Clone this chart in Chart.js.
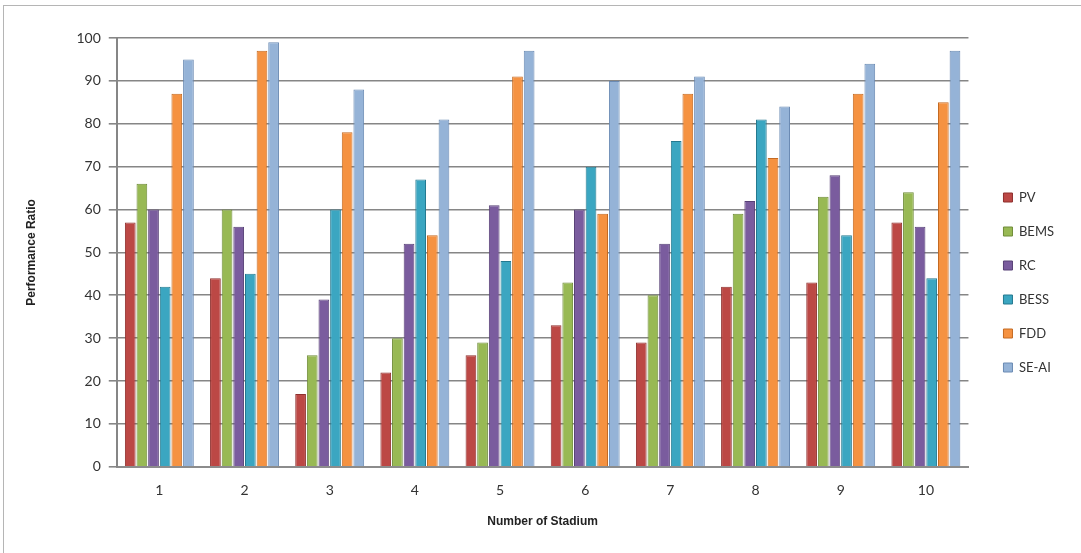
<!DOCTYPE html>
<html lang="en">
<head>
    <meta charset="UTF-8">
    <title>Performance Ratio by Stadium</title>
    <style>
        body {
            margin: 0;
            padding: 0;
            background: #ffffff;
        }

        .frame {
            position: absolute;
            left: 3px;
            top: 5px;
            width: 1090px;
            height: 560px;
            border: 1px solid #b5b5b5;
        }

        #chart-wrap {
            position: absolute;
            left: 0;
            top: 0;
            width: 1081px;
            height: 553px;
        }
    </style>
</head>
<body>
<div class="frame"></div>
<div id="chart-wrap">
    <canvas id="bar-chart"></canvas>
</div>

<script src="https://cdn.jsdelivr.net/npm/chart.js"></script>
<script>
    // data
    var stadiums = ['1', '2', '3', '4', '5', '6', '7', '8', '9', '10'];
    var pv    = [57, 44, 17, 22, 26, 33, 29, 42, 43, 57];
    var bems  = [66, 60, 26, 30, 29, 43, 40, 59, 63, 64];
    var rc    = [60, 56, 39, 52, 61, 60, 52, 62, 68, 56];
    var bess  = [42, 45, 60, 67, 48, 70, 76, 81, 54, 44];
    var fdd   = [87, 97, 78, 54, 91, 59, 87, 72, 87, 85];
    var seai  = [95, 99, 88, 81, 97, 90, 91, 84, 94, 97];
    var yTicks = [0, 10, 20, 30, 40, 50, 60, 70, 80, 90, 100];

    function series(label, values, color, edge) {
        return {
            label: label,
            data: values,
            backgroundColor: color,
            borderColor: edge,
            borderWidth: 1,
            categoryPercentage: 0.82,
            barPercentage: 0.92
        };
    }

    // push the legend a bit further right, away from the plot
    var legendShift = {
        id: 'legendShift',
        afterLayout: function (chart) {
            chart.legend.left += 14;
            chart.legend.right += 14;
            chart.legend.top -= 3;
            chart.legend.bottom -= 3;
        }
    };

    var ctx = document.getElementById('bar-chart').getContext('2d');
    var chart = new Chart(ctx, {
        type: 'bar',
        data: {
            labels: stadiums,
            datasets: [
                series('PV', pv, '#bc4845', '#8e2f2d'),
                series('BEMS', bems, '#98b954', '#6f8c38'),
                series('RC', rc, '#7a5c9e', '#574076'),
                series('BESS', bess, '#3ba6c1', '#24798f'),
                series('FDD', fdd, '#f59241', '#c46a22'),
                series('SE-AI', seai, '#95b3d7', '#6a8ab3')
            ]
        },
        options: {
            responsive: true,
            maintainAspectRatio: false,
            animation: false,
            layout: {
                padding: {left: 20, right: 31, top: 38, bottom: 20}
            },
            plugins: {
                tooltip: {enabled: false},
                legend: {
                    position: 'right',
                    align: 'center',
                    labels: {
                        boxWidth: 9,
                        boxHeight: 9,
                        padding: 21,
                        color: '#333333',
                        font: {family: 'Lato', size: 13}
                    }
                }
            },
            scales: {
                x: {
                    grid: {display: false},
                    border: {color: '#8c8c8c', width: 2},
                    ticks: {
                        color: '#333333',
                        padding: 7,
                        font: {family: 'Lato', size: 14}
                    },
                    title: {
                        display: true,
                        text: 'Number of Stadium',
                        color: '#222222',
                        padding: {top: 9},
                        font: {family: 'Liberation Sans', size: 12, weight: 'bold'}
                    }
                },
                y: {
                    min: 0,
                    max: 100,
                    afterBuildTicks: function (axis) {
                        axis.ticks = yTicks.map(function (v) { return {value: v}; });
                    },
                    grid: {
                        color: '#868686',
                        lineWidth: 1.6,
                        tickLength: 8
                    },
                    border: {color: '#868686', width: 2},
                    ticks: {
                        color: '#333333',
                        padding: 8,
                        font: {family: 'Lato', size: 14}
                    },
                    title: {
                        display: true,
                        text: 'Performance Ratio',
                        color: '#222222',
                        padding: {bottom: 30},
                        font: {family: 'Liberation Sans', size: 12, weight: 'bold'}
                    }
                }
            }
        },
        plugins: [legendShift]
    });
</script>
</body>
</html>
